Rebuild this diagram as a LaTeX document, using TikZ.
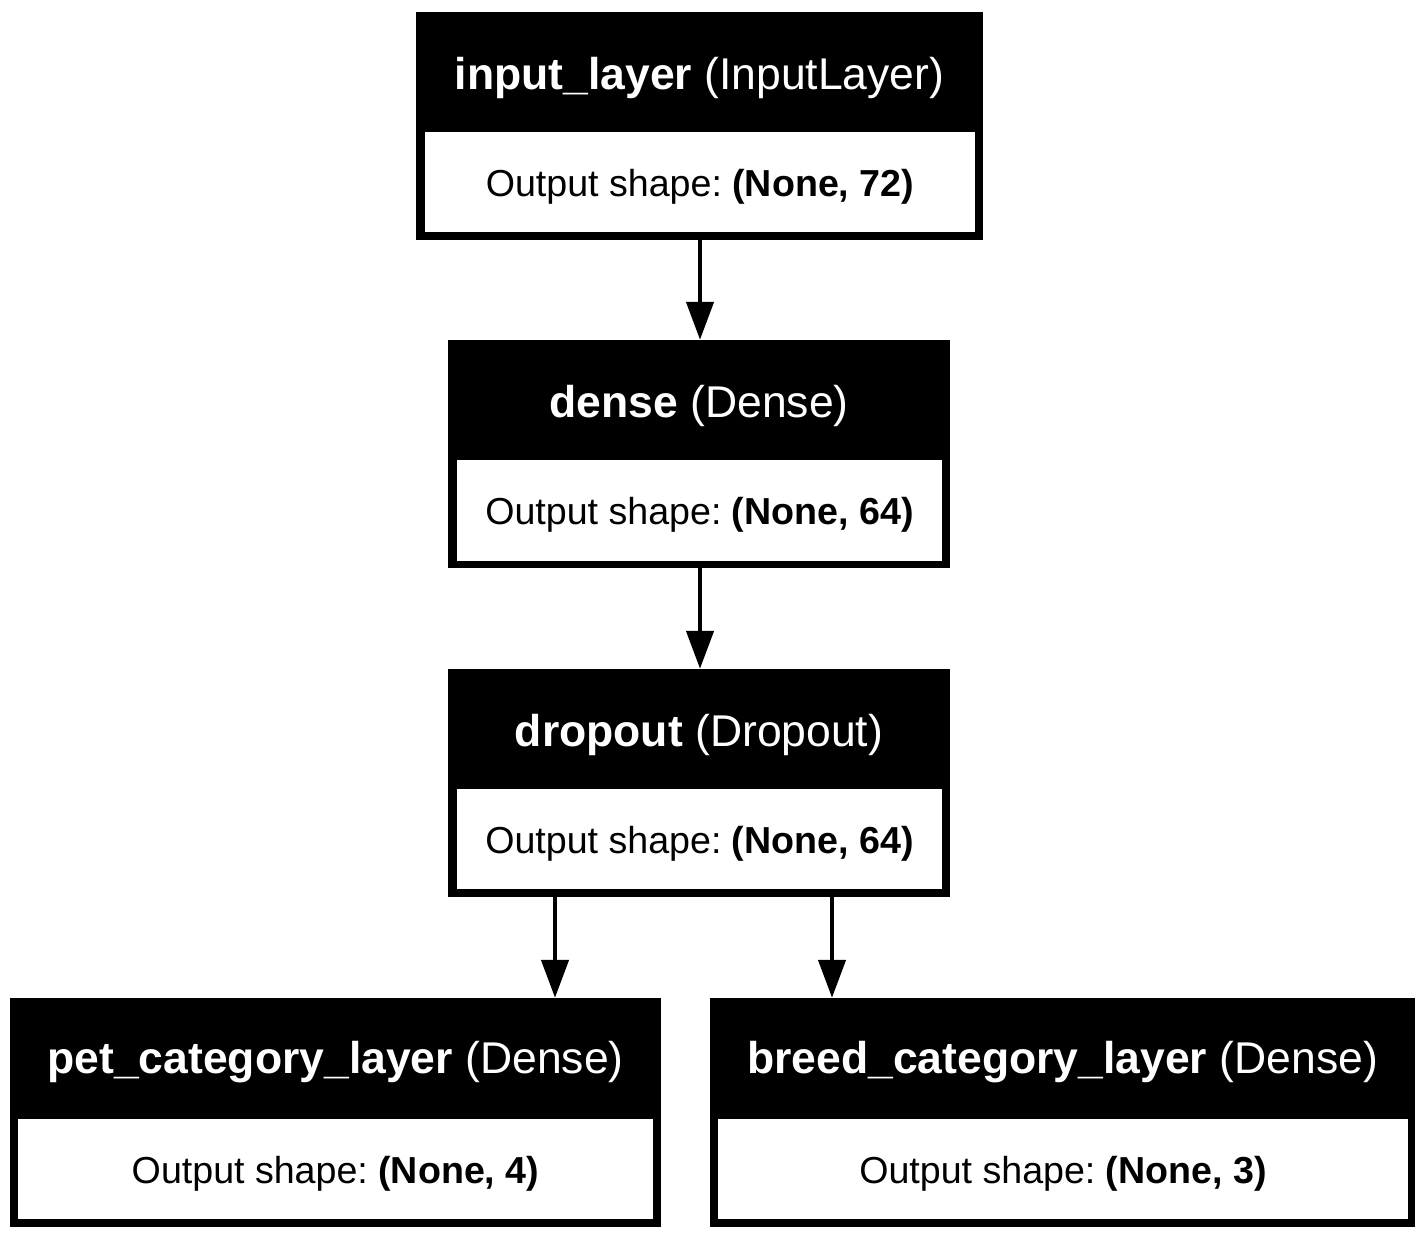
\documentclass[tikz,border=0pt]{standalone}
\usepackage{fontspec}
\setmainfont{Liberation Sans}
\usetikzlibrary{arrows.meta,calc}
\frenchspacing
\tikzset{
  outerbox/.style={fill=black, draw=none, rectangle, inner sep=0pt},
  innerbox/.style={fill=white, draw=none, rectangle, inner sep=0pt},
  headtext/.style={text=white, inner sep=0pt, font=\fontsize{44.5}{50}\selectfont},
  bodytext/.style={text=black, inner sep=0pt, font=\fontsize{37.6}{44}\selectfont},
  arr/.style={line width=4.5pt, -{Triangle[length=38pt,width=27pt]}}
}
\begin{document}
\begin{tikzpicture}[x=1pt,y=-1pt]
\useasboundingbox[fill=white] (0,0) rectangle (1426,1239);
% input layer
\node[outerbox, minimum width=567pt, minimum height=228pt] (inp) at (699.5,126) {};
\node[innerbox, minimum width=550pt, minimum height=100pt] (inpb) at (700,182) {};
\node[headtext] (inph) at (699.5,77.5) {\textbf{input\_layer} (InputLayer)};
\node[bodytext] (inpt) at (700,187) {Output shape: \textbf{(None, 72)}};
% dense
\node[outerbox, minimum width=502pt, minimum height=228pt] (den) at (699,454) {};
\node[innerbox, minimum width=485pt, minimum height=101pt] (denb) at (699.5,510.5) {};
\node[headtext] (denh) at (699,405.5) {\textbf{dense} (Dense)};
\node[bodytext] (dent) at (699.5,515) {Output shape: \textbf{(None, 64)}};
% dropout
\node[outerbox, minimum width=502pt, minimum height=228pt] (drp) at (699,783) {};
\node[innerbox, minimum width=485pt, minimum height=100pt] (drpb) at (699.5,839) {};
\node[headtext] (drph) at (699,734.5) {\textbf{dropout} (Dropout)};
\node[bodytext] (drpt) at (699.5,844) {Output shape: \textbf{(None, 64)}};
% pet
\node[outerbox, minimum width=651pt, minimum height=229pt] (pet) at (335.5,1112.5) {};
\node[innerbox, minimum width=635pt, minimum height=100pt] (petb) at (335.5,1169) {};
\node[headtext] (peth) at (335.5,1062.5) {\textbf{pet\_category\_layer} (Dense)};
\node[bodytext] (pett) at (335.5,1174) {Output shape: \textbf{(None, 4)}};
% breed
\node[outerbox, minimum width=705pt, minimum height=229pt] (brd) at (1062.5,1112.5) {};
\node[innerbox, minimum width=690pt, minimum height=100pt] (brdb) at (1063,1169) {};
\node[headtext] (brdh) at (1062.5,1062.5) {\textbf{breed\_category\_layer} (Dense)};
\node[bodytext] (brdt) at (1063,1174) {Output shape: \textbf{(None, 3)}};
% connectors
\draw[arr] ([xshift=0.5pt]inp.south) -- ([xshift=0.5pt]inp.south |- den.north);
\draw[arr] ([xshift=1pt]den.south) -- ([xshift=1pt]den.south |- drp.north);
\draw[arr] ([xshift=-144pt]drp.south) -- ([xshift=-144pt]drp.south |- pet.north);
\draw[arr] ([xshift=133pt]drp.south) -- ([xshift=133pt]drp.south |- brd.north);
\end{tikzpicture}
\end{document}
